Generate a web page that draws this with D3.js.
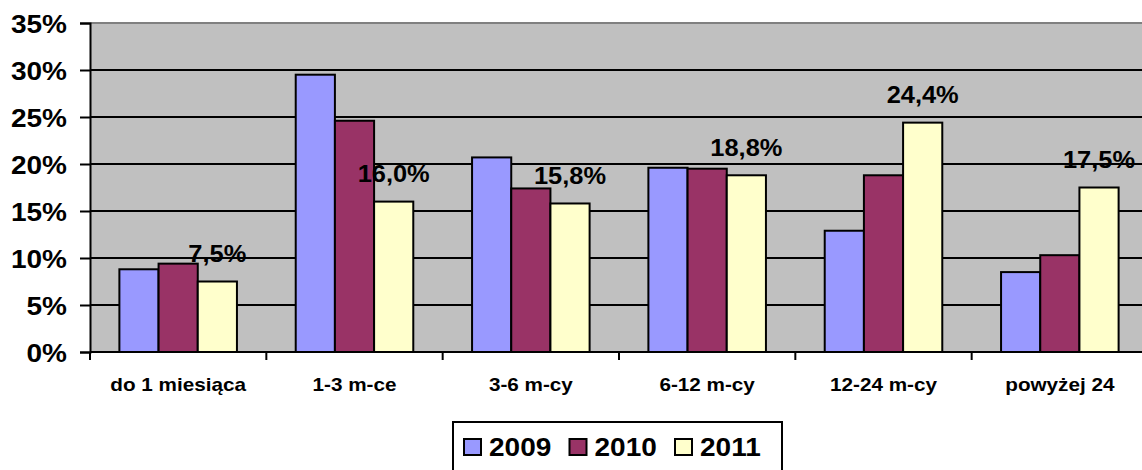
<!DOCTYPE html>
<html>
<head>
<meta charset="utf-8">
<script src="https://cdn.jsdelivr.net/npm/d3@7"></script>
<style>
  html, body { margin: 0; padding: 0; background: #fff; }
  svg { display: block; font-family: Arial, "Liberation Sans", sans-serif; font-weight: bold; }
</style>
</head>
<body>
<script>
// chart data
const categories = ['do 1 miesiąca', '1-3 m-ce', '3-6 m-cy', '6-12 m-cy', '12-24 m-cy', 'powyżej 24']
const seriesNames = ['2009', '2010', '2011']
const values2009 = [8.8, 29.5, 20.7, 19.6, 12.9, 8.5]
const values2010 = [9.4, 24.6, 17.4, 19.5, 18.8, 10.3]
const values2011 = [7.5, 16.0, 15.8, 18.8, 24.4, 17.5]
const yTicks = [0, 5, 10, 15, 20, 25, 30, 35]
const labelledSeries = '2011' // only the last year carries value labels

;(() => {
  const width = 1142, height = 470
  const colors = { '2009': '#9999FF', '2010': '#993366', '2011': '#FFFFCC' }
  const sx = 1.12 // the original picture is stretched a bit sideways

  // plot area (right edge runs past the picture, as in the original)
  const left = 90, top = 23, bottom = 352, right = 1148

  const svg = d3.select('body').append('svg')
    .attr('width', width)
    .attr('height', height)

  const seriesValues = { '2009': values2009, '2010': values2010, '2011': values2011 }

  const x0 = d3.scaleBand().domain(categories).range([left, right]).padding(0)
  const x1 = d3.scaleBand().domain(seriesNames)
    .range([0, x0.bandwidth()]).paddingInner(0).paddingOuter(0.75)
  const y = d3.scaleLinear().domain([0, 35]).range([bottom, top])

  const fmt = v => v.toFixed(1).replace('.', ',') + '%'

  // background
  svg.append('rect')
    .attr('x', left).attr('y', top)
    .attr('width', right - left).attr('height', bottom - top)
    .attr('fill', '#C0C0C0')

  // gridlines
  svg.selectAll('.grid')
    .data(yTicks.filter(t => t > 0 && t < 35))
    .enter().append('line')
    .attr('class', 'grid')
    .attr('x1', left).attr('x2', right)
    .attr('y1', d => y(d)).attr('y2', d => y(d))
    .attr('stroke', '#000').attr('stroke-width', 2)

  // top border of plot area
  svg.append('line')
    .attr('x1', left).attr('x2', right)
    .attr('y1', y(35)).attr('y2', y(35))
    .attr('stroke', '#808080').attr('stroke-width', 2)

  // bars
  const rows = categories.map((c, i) => ({ cat: c, vals: seriesNames.map(s => ({ s, v: seriesValues[s][i] })) }))
  const groups = svg.selectAll('.grp').data(rows).enter().append('g')
    .attr('class', 'grp')
    .attr('transform', d => `translate(${x0(d.cat)},0)`)

  groups.selectAll('rect').data(d => d.vals).enter().append('rect')
    .attr('x', d => x1(d.s))
    .attr('y', d => y(d.v))
    .attr('width', x1.bandwidth())
    .attr('height', d => y(0) - y(d.v))
    .attr('fill', d => colors[d.s])
    .attr('stroke', '#000').attr('stroke-width', 2)

  // value labels for 2011
  groups.selectAll('.lbl').data(d => d.vals.filter(e => e.s === labelledSeries)).enter().append('text')
    .attr('class', 'lbl')
    .attr('transform', d => `translate(${x1(d.s) + x1.bandwidth() / 2},${y(d.v) - 19.5}) scale(1.06,1)`)
    .attr('text-anchor', 'middle')
    .attr('font-size', 24)
    .attr('fill', '#000')
    .text(d => fmt(d.v))

  // y axis
  const yAxis = svg.append('g')
    .attr('transform', `translate(${left},0)`)
    .call(d3.axisLeft(y).tickValues(yTicks).tickSize(10).tickPadding(0).tickFormat(d => d + '%'))
  yAxis.select('.domain').attr('stroke', '#000').attr('stroke-width', 2)
  yAxis.selectAll('.tick line').attr('stroke', '#000').attr('stroke-width', 2)
  yAxis.selectAll('.tick text')
    .attr('x', 0).attr('dy', null)
    .attr('transform', `translate(-23,9.5) scale(${sx},1)`)
    .attr('font-size', 25)
    .attr('font-family', null)
    .attr('fill', '#000')

  // x axis line and boundary ticks
  svg.append('line')
    .attr('x1', left).attr('x2', right)
    .attr('y1', bottom).attr('y2', bottom)
    .attr('stroke', '#000').attr('stroke-width', 2)

  svg.selectAll('.xtick')
    .data(categories.map(c => x0(c)).concat([right]))
    .enter().append('line')
    .attr('class', 'xtick')
    .attr('x1', d => d).attr('x2', d => d)
    .attr('y1', bottom).attr('y2', bottom + 8)
    .attr('stroke', '#000').attr('stroke-width', 2)

  svg.selectAll('.xlab')
    .data(categories)
    .enter().append('text')
    .attr('class', 'xlab')
    .attr('transform', d => `translate(${x0(d) + x0.bandwidth() / 2},391) scale(1.15,1)`)
    .attr('text-anchor', 'middle')
    .attr('font-size', 18)
    .attr('fill', '#000')
    .text(d => d)

  // legend
  const legend = svg.append('g')
  legend.append('rect')
    .attr('x', 453).attr('y', 422)
    .attr('width', 329).attr('height', 52)
    .attr('fill', '#fff')
    .attr('stroke', '#000').attr('stroke-width', 2)

  const legendX = d3.scalePoint().domain(seriesNames).range([464, 675])
  const items = legend.selectAll('.li').data(seriesNames).enter().append('g')
    .attr('class', 'li')
    .attr('transform', d => `translate(${legendX(d)},0)`)
  items.append('rect')
    .attr('x', 0).attr('y', 439)
    .attr('width', 17).attr('height', 16)
    .attr('fill', d => colors[d])
    .attr('stroke', '#000').attr('stroke-width', 2)
  items.append('text')
    .attr('transform', `translate(25,456) scale(${sx},1)`)
    .attr('font-size', 25)
    .attr('fill', '#000')
    .text(d => d)
})()
</script>
</body>
</html>
